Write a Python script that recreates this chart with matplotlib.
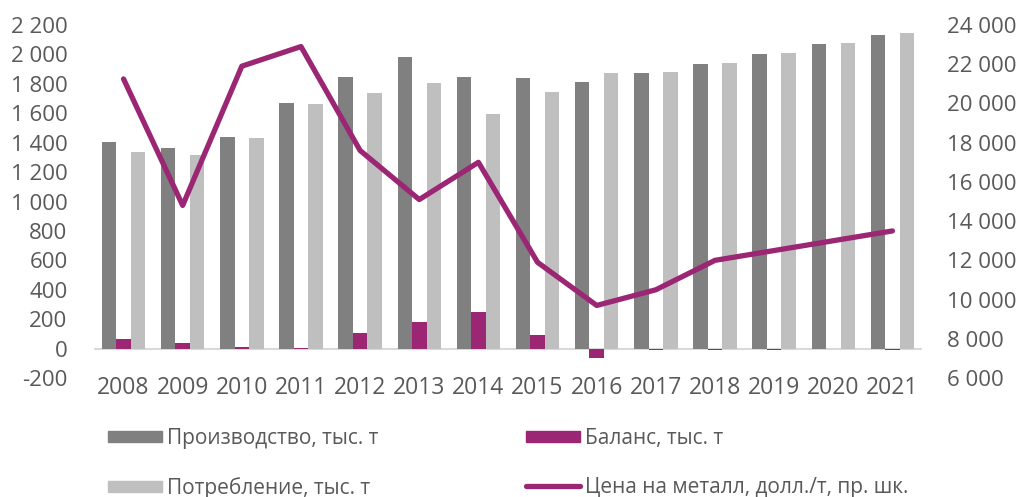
import matplotlib
matplotlib.use("Agg")
import matplotlib.pyplot as plt
from matplotlib.patches import Patch
from matplotlib.lines import Line2D
import numpy as np

plt.rcParams['font.family'] = ['Open Sans', 'DejaVu Sans']

years = ['2008', '2009', '2010', '2011', '2012', '2013', '2014',
         '2015', '2016', '2017', '2018', '2019', '2020', '2021']
production = [1405, 1362, 1441, 1668, 1845, 1985, 1845,
              1838, 1811, 1872, 1935, 2001, 2071, 2132]
balance = [68, 41, 10, 2, 104, 181, 249,
           91, -63, -8, -7, -7, -5, -12]
consumption = [1337, 1319, 1430, 1666, 1740, 1808, 1593,
               1747, 1872, 1883, 1942, 2008, 2076, 2144]
price = [21250, 14800, 21900, 22900, 17600, 15100, 17000,
         11900, 9700, 10500, 12000, 12500, 13000, 13500]

left_ticks = list(range(-200, 2201, 200))
right_ticks = list(range(6000, 24001, 2000))

def fmt(v):
    s = f"{abs(v):,}".replace(",", " ")
    return ("-" if v < 0 else "") + s

c_prod = '#808080'
c_cons = '#BFBFBF'
c_bal = '#9B2673'
c_txt = '#595959'

fig = plt.figure(figsize=(10.18, 4.97), dpi=100)
ax = fig.add_axes([0.0923, 0.2394, 0.8134, 0.7103])
ax2 = ax.twinx()

x = np.arange(len(years))
w = 0.245
ax.bar(x - w, production, width=w, color=c_prod, zorder=2)
ax.bar(x, balance, width=w, color=c_bal, zorder=3)
ax.bar(x + w, consumption, width=w, color=c_cons, zorder=2)
ax.axhline(0, color='#D9D9D9', lw=1.5, zorder=1)

ax2.plot(x, price, color=c_bal, lw=3.8, solid_capstyle='round', zorder=4)

ax.set_xlim(-0.5, len(years) - 0.5)
ax.set_ylim(-200, 2200)
ax2.set_ylim(6000, 24000)
ax.set_yticks(left_ticks)
ax.set_yticklabels([fmt(v) for v in left_ticks])
ax2.set_yticks(right_ticks)
ax2.set_yticklabels([fmt(v) for v in right_ticks])
ax.set_xticks(x)
ax.set_xticklabels(years)

for a in (ax, ax2):
    for s in a.spines.values():
        s.set_visible(False)
    a.tick_params(length=0, colors=c_txt, labelsize=16)
ax.tick_params(axis='x', labelsize=16.5, pad=-1.5)
ax.tick_params(axis='y', pad=19)
ax2.tick_params(axis='y', pad=18)

handles = [Patch(color=c_prod), Patch(color=c_cons), Patch(color=c_bal),
           Line2D([0], [0], color=c_bal, lw=3.8, solid_capstyle='round')]
labels = ['Производство, тыс. т', 'Потребление, тыс. т', 'Баланс, тыс. т',
          'Цена на металл, долл./т, пр. шк.']
fig.legend(handles, labels, ncol=2, loc='upper left', bbox_to_anchor=(0.106, 0.139),
           frameon=False, fontsize=15, labelcolor=c_txt, handlelength=2.6,
           handleheight=0.5, handletextpad=0.25, columnspacing=7.05,
           labelspacing=1.35, borderaxespad=0, borderpad=0)

fig.savefig('out.png', dpi=100)
